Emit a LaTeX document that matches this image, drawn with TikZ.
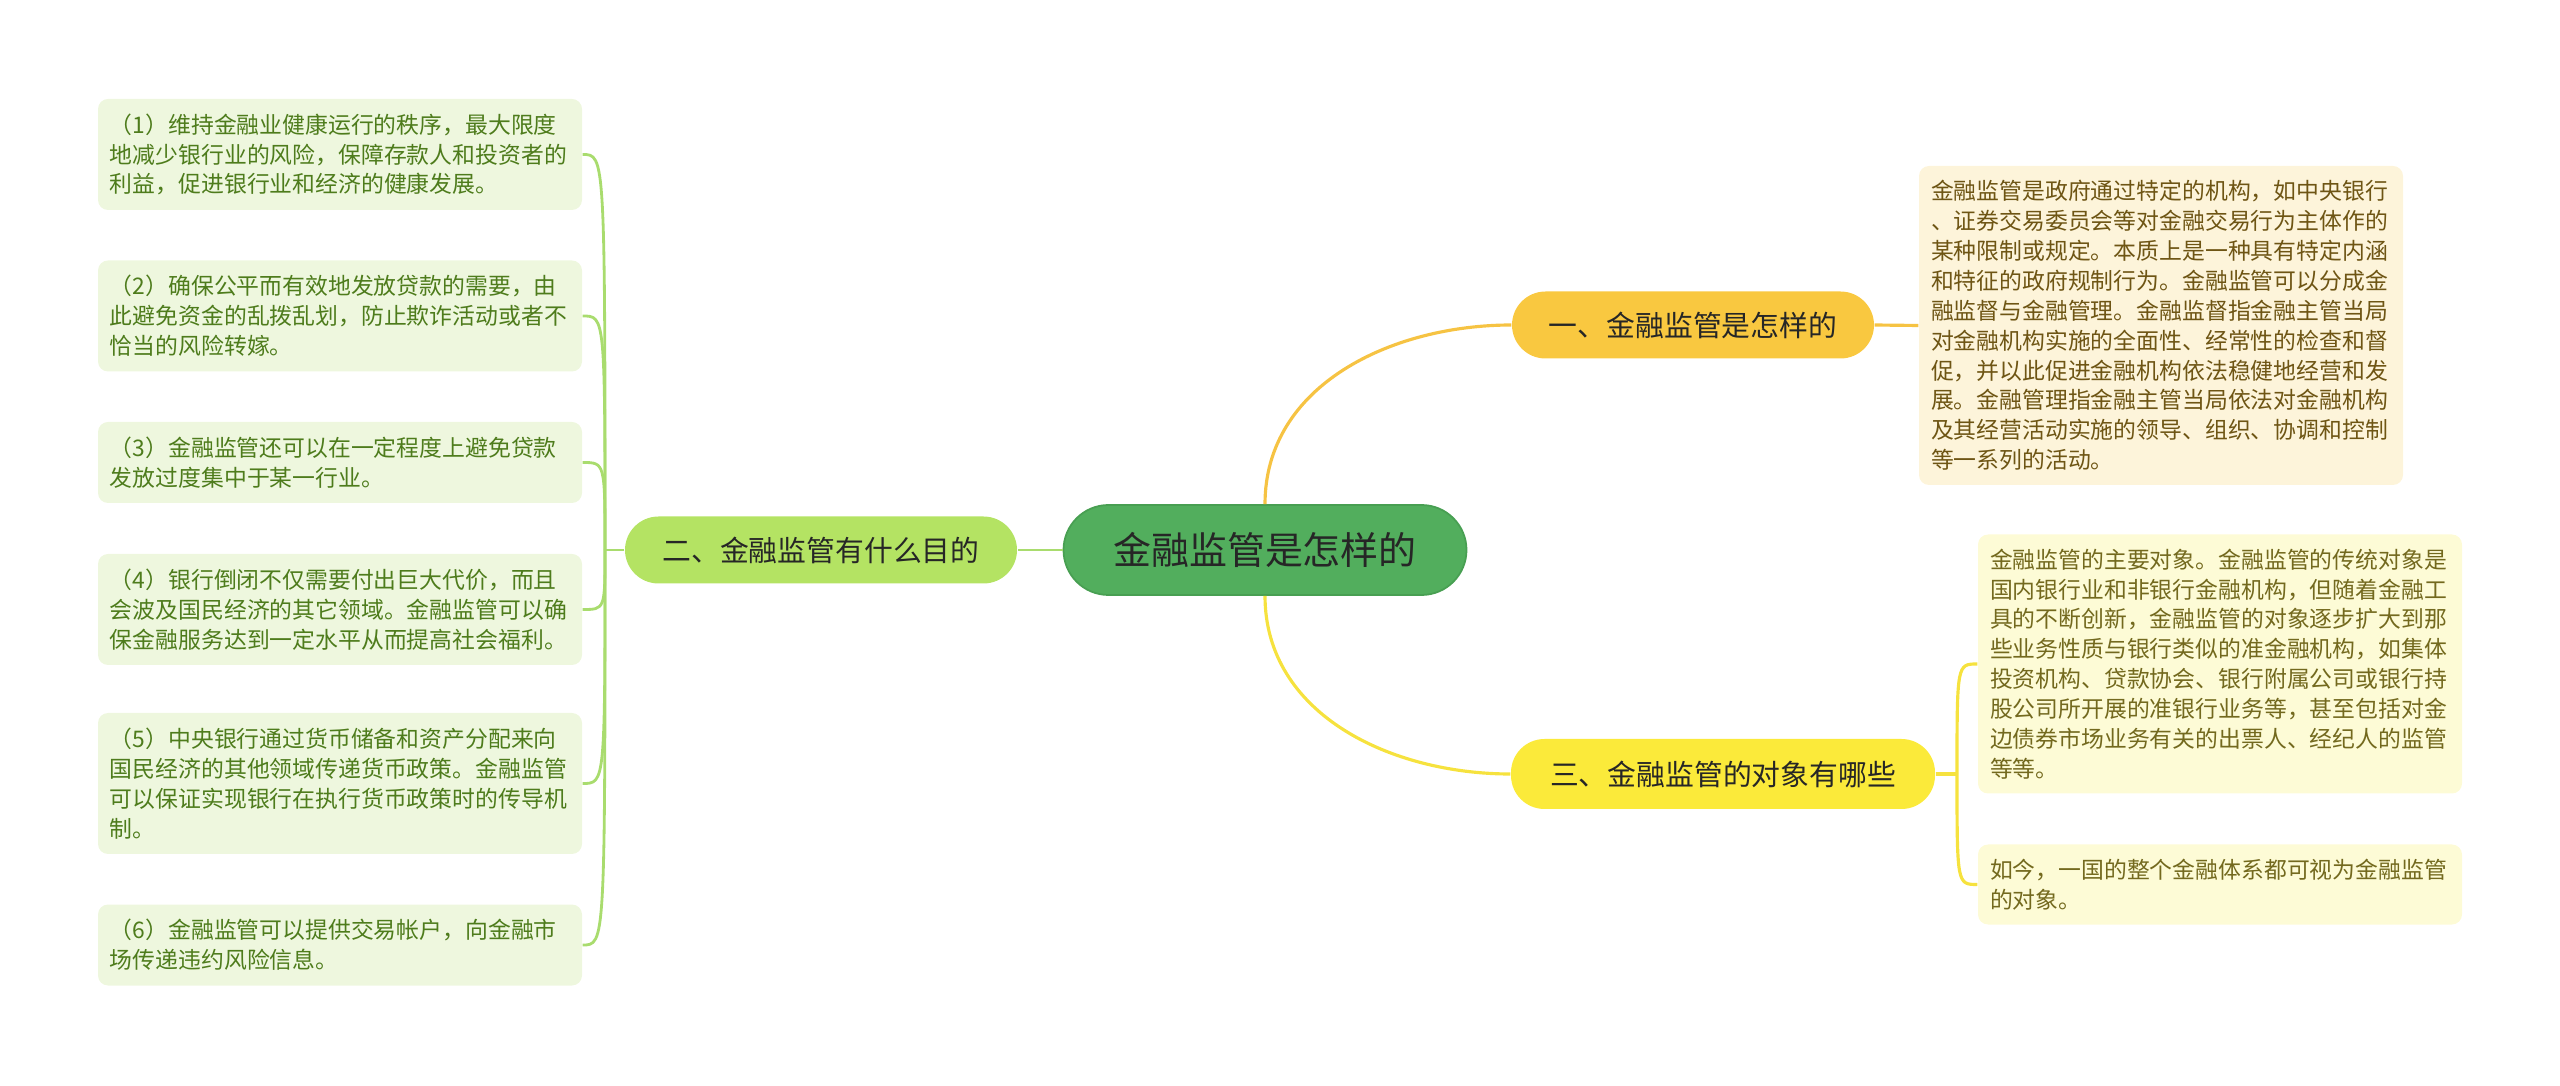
\documentclass[tikz,border=0pt]{standalone}
\usepackage{fontspec}
\setmainfont{Noto Sans CJK SC}

\definecolor{rootfill}{HTML}{52AE5D}
\definecolor{rootedge}{HTML}{489F52}
\definecolor{topicgreen}{HTML}{B4E363}
\definecolor{topicgold}{HTML}{F9C840}
\definecolor{topicyellow}{HTML}{FBEA3A}
\definecolor{leafgreen}{HTML}{EEF7DE}
\definecolor{leafgreentext}{HTML}{4E7C1C}
\definecolor{leafcream}{HTML}{FDF4DA}
\definecolor{leafcreamtext}{HTML}{6E5514}
\definecolor{leafyellow}{HTML}{FDFBD6}
\definecolor{leafyellowtext}{HTML}{73691E}
\definecolor{linkgreen}{HTML}{A9DC6E}
\definecolor{linkgold}{HTML}{F6C343}
\definecolor{linkyellow}{HTML}{F6E23E}

\tikzset{
  rootnode/.style={draw=rootedge, line width=0.5pt, fill=rootfill, rounded corners=0.45cm,
    minimum width=4.03cm, minimum height=0.9cm, inner sep=0pt, text=black!85,
    font=\fontsize{10.8pt}{13pt}\selectfont},
  topicnode/.style={rounded corners=0.335cm, minimum height=0.67cm, inner sep=0pt,
    text=black!85, font=\fontsize{8.2pt}{10pt}\selectfont},
  leafnode/.style={rounded corners=0.1cm, text width=4.6cm, inner xsep=0.12cm,
    inner ysep=0pt, align=left, font=\fontsize{6.5pt}{8.5pt}\selectfont},
  greenleaf/.style={leafnode, fill=leafgreen, text=leafgreentext},
  creamleaf/.style={leafnode, fill=leafcream, text=leafcreamtext},
  yellowleaf/.style={leafnode, fill=leafyellow, text=leafyellowtext},
  greenlink/.style={draw=linkgreen, line width=0.8pt},
  goldlink/.style={draw=linkgold, line width=0.9pt},
  yellowlink/.style={draw=linkyellow, line width=0.9pt}
}

\begin{document}
\begin{tikzpicture}

\useasboundingbox (0,0) rectangle (25.6,10.85);

\node[rootnode] (root) at (12.65,5.35) {金融监管是怎样的};

\node[topicnode, fill=topicgreen, minimum width=3.92cm] (b2) at (8.21,5.35) {二、金融监管有什么目的};
\node[topicnode, fill=topicgold, minimum width=3.62cm] (b1) at (16.93,7.60) {一、金融监管是怎样的};
\node[topicnode, fill=topicyellow, minimum width=4.24cm, minimum height=0.70cm] (b3) at (17.23,3.11) {三、金融监管的对象有哪些};


\node[greenleaf, minimum height=1.11cm] (l1) at (3.40,9.305) {（1）维持金融业健康运行的秩序，最大限度\\地减少银行业的风险，保障存款人和投资者的\\利益，促进银行业和经济的健康发展。};
\node[greenleaf, minimum height=1.11cm] (l2) at (3.40,7.69) {（2）确保公平而有效地发放贷款的需要，由\\此避免资金的乱拨乱划，防止欺诈活动或者不\\恰当的风险转嫁。};
\node[greenleaf, minimum height=0.81cm] (l3) at (3.40,6.225) {（3）金融监管还可以在一定程度上避免贷款\\发放过度集中于某一行业。};
\node[greenleaf, minimum height=1.11cm] (l4) at (3.40,4.755) {（4）银行倒闭不仅需要付出巨大代价，而且\\会波及国民经济的其它领域。金融监管可以确\\保金融服务达到一定水平从而提高社会福利。};
\node[greenleaf, minimum height=1.41cm] (l5) at (3.40,3.015) {（5）中央银行通过货币储备和资产分配来向\\国民经济的其他领域传递货币政策。金融监管\\可以保证实现银行在执行货币政策时的传导机\\制。};
\node[greenleaf, minimum height=0.81cm] (l6) at (3.40,1.40) {（6）金融监管可以提供交易帐户，向金融市\\场传递违约风险信息。};


\node[creamleaf, minimum height=3.19cm] (a1) at (21.61,7.595) {金融监管是政府通过特定的机构，如中央银行\\、证券交易委员会等对金融交易行为主体作的\\某种限制或规定。本质上是一种具有特定内涵\\和特征的政府规制行为。金融监管可以分成金\\融监督与金融管理。金融监督指金融主管当局\\对金融机构实施的全面性、经常性的检查和督\\促，并以此促进金融机构依法稳健地经营和发\\展。金融管理指金融主管当局依法对金融机构\\及其经营活动实施的领导、组织、协调和控制\\等一系列的活动。};

\node[yellowleaf, minimum height=2.59cm] (c1) at (22.20,4.21) {金融监管的主要对象。金融监管的传统对象是\\国内银行业和非银行金融机构，但随着金融工\\具的不断创新，金融监管的对象逐步扩大到那\\些业务性质与银行类似的准金融机构，如集体\\投资机构、贷款协会、银行附属公司或银行持\\股公司所开展的准银行业务等，甚至包括对金\\边债券市场业务有关的出票人、经纪人的监管\\等等。};
\node[yellowleaf, minimum height=0.80cm] (c2) at (22.20,2.005) {如今，一国的整个金融体系都可视为金融监管\\的对象。};


\coordinate (lj) at (6.05,5.35);
\coordinate (rj) at (19.57,3.11);

\draw[greenlink] (root.west) -- (b2.east);
\draw[goldlink] (root.north) to[out=90,in=180] (b1.west);
\draw[yellowlink] (root.south) to[out=-90,in=180] (b3.west);

\draw[greenlink] (b2.west) -- (lj);
\draw[greenlink] (lj) .. controls (lj |- l1.east) .. (l1.east);
\draw[greenlink] (lj) .. controls (lj |- l2.east) .. (l2.east);
\draw[greenlink] (lj) .. controls (lj |- l3.east) .. (l3.east);
\draw[greenlink] (lj) .. controls (lj |- l4.east) .. (l4.east);
\draw[greenlink] (lj) .. controls (lj |- l5.east) .. (l5.east);
\draw[greenlink] (lj) .. controls (lj |- l6.east) .. (l6.east);

\draw[goldlink] (b1.east) -- (a1.west);

\draw[yellowlink] (b3.east) -- (rj);
\draw[yellowlink] (rj) .. controls (rj |- c1.west) .. (c1.west);
\draw[yellowlink] (rj) .. controls (rj |- c2.west) .. (c2.west);

\end{tikzpicture}
\end{document}
